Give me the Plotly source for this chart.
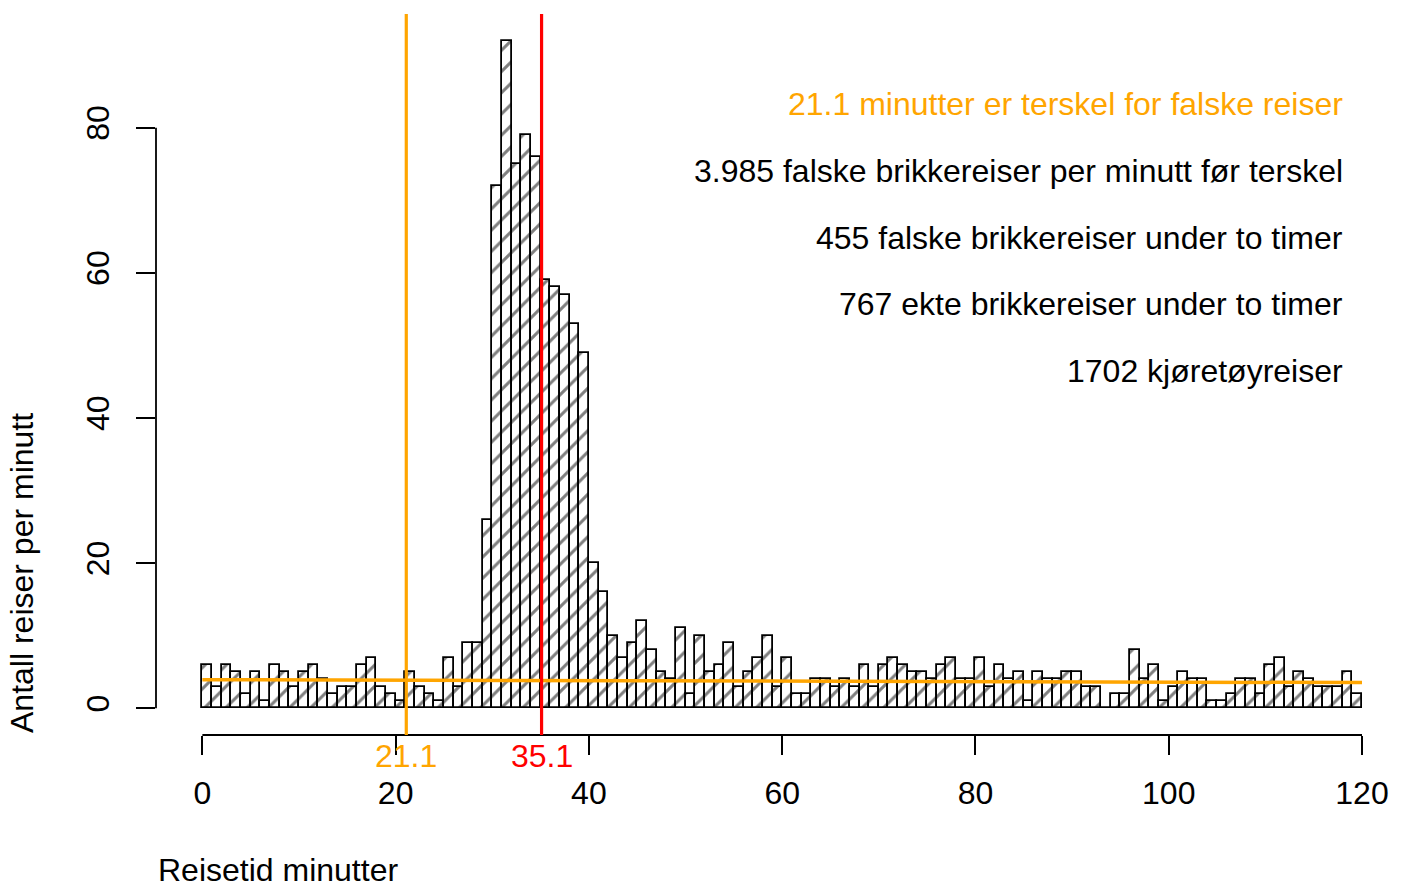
import plotly.graph_objects as go

# Histogram: trips per minute of travel time (1-minute bins, 0-120)
bin_start = list(range(0, 120))
counts = [6, 3, 6, 5, 2, 5, 1, 6, 5, 3, 5, 6, 4, 2, 3, 3, 6, 7, 3, 2,
          1, 5, 3, 2, 1, 7, 3, 9, 9, 26,
          72, 92, 75, 79, 76, 59, 58, 57, 53, 49,
          20, 16, 10, 7, 9, 12, 8, 5, 4, 11,
          2, 10, 5, 6, 9, 3, 5, 7, 10, 3,
          7, 2, 2, 4, 4, 3, 4, 3, 6, 3,
          6, 7, 6, 5, 5, 4, 6, 7, 4, 4,
          7, 3, 6, 4, 5, 1, 5, 4, 4, 5,
          5, 3, 3, 0, 2, 2, 8, 4, 6, 1,
          3, 5, 4, 4, 1, 1, 2, 4, 4, 2,
          6, 7, 3, 5, 4, 3, 3, 3, 5, 2]

threshold = 21.1
peak = 35.1
trend_x = [0, 120]
trend_y = [3.95, 3.54]

x_ticks = [0, 20, 40, 60, 80, 100, 120]
y_ticks = [0, 20, 40, 60, 80]

legend_lines = [
    ("21.1 minutter er terskel for falske reiser", "#FFA500"),
    ("3.985 falske brikkereiser per minutt før terskel", "black"),
    ("455 falske brikkereiser under to timer", "black"),
    ("767 ekte brikkereiser under to timer", "black"),
    ("1702 kjøretøyreiser", "black"),
]

FONT = "Liberation Sans, Arial, Helvetica, sans-serif"
FS = 32

fig = go.Figure()
fig.add_trace(go.Bar(
    x=[b + 0.5 for b in bin_start], y=counts, width=1,
    marker=dict(color="white", line=dict(color="black", width=1.8),
                pattern=dict(shape="/", fgcolor="black", bgcolor="white",
                             size=15, solidity=0.2, fillmode="overlay")),
    showlegend=False, hoverinfo="skip"))
fig.add_trace(go.Scatter(x=trend_x, y=trend_y, mode="lines",
                         line=dict(color="#FFA500", width=3.5),
                         showlegend=False, hoverinfo="skip"))

shapes = [
    dict(type="line", xref="x", yref="paper", x0=x_ticks[0], x1=x_ticks[-1], y0=0, y1=0,
         line=dict(color="black", width=1.8)),
    dict(type="line", xref="paper", yref="y", x0=0, x1=0, y0=y_ticks[0], y1=y_ticks[-1],
         line=dict(color="black", width=1.8)),
    dict(type="line", xref="x", yref="paper", x0=threshold, x1=threshold, y0=0, y1=1,
         line=dict(color="#FFA500", width=3.2), layer="above"),
    dict(type="line", xref="x", yref="paper", x0=peak, x1=peak, y0=0, y1=1,
         line=dict(color="#FF0000", width=3.2), layer="above"),
]

annotations = [
    dict(text=f"{threshold}", x=threshold, xref="x", y=-0.0291, yref="paper",
         showarrow=False, xanchor="center", yanchor="middle",
         font=dict(family=FONT, size=FS, color="#FFA500")),
    dict(text=f"{peak}", x=peak, xref="x", y=-0.0291, yref="paper",
         showarrow=False, xanchor="center", yanchor="middle",
         font=dict(family=FONT, size=FS, color="#FF0000")),
    dict(text="Reisetid minutter", x=0, xref="paper", y=-0.1872, yref="paper",
         showarrow=False, xanchor="left", yanchor="middle",
         font=dict(family=FONT, size=FS, color="black")),
    dict(text="Antall reiser per minutt", x=-0.1073, xref="paper", y=0, yref="paper",
         showarrow=False, xanchor="center", yanchor="bottom", textangle=-90,
         font=dict(family=FONT, size=FS, color="black")),
]
line_y_px = [104, 171, 238, 304, 371]
for (txt, col), ypx in zip(legend_lines, line_y_px):
    annotations.append(dict(text=txt, x=0.952, xref="paper", y=(735 - ypx) / 721, yref="paper",
                            showarrow=False, xanchor="right", yanchor="middle",
                            font=dict(family=FONT, size=FS, color=col)))

fig.update_layout(
    width=1397, height=874,
    margin=dict(l=148, r=0, t=6, b=147),
    paper_bgcolor="white", plot_bgcolor="white",
    bargap=0, shapes=shapes, annotations=annotations,
    font=dict(family=FONT, size=FS, color="black"),
    xaxis=dict(range=[-4.8, 124.45], tickvals=x_ticks, ticktext=[str(v) for v in x_ticks],
               ticks="outside", ticklen=19, tickwidth=1.8, tickcolor="black",
               showgrid=False, zeroline=False, showline=False,
               ticklabelstandoff=11, tickfont=dict(family=FONT, size=FS)),
    yaxis=dict(range=[-3.68, 95.68], tickvals=y_ticks, ticktext=[str(v) for v in y_ticks],
               ticks="outside", ticklen=19, tickwidth=1.8, tickcolor="black",
               tickangle=-90, showgrid=False, zeroline=False, showline=False,
               ticklabelstandoff=14, tickfont=dict(family=FONT, size=FS)),
)

fig.write_html("out.html")
